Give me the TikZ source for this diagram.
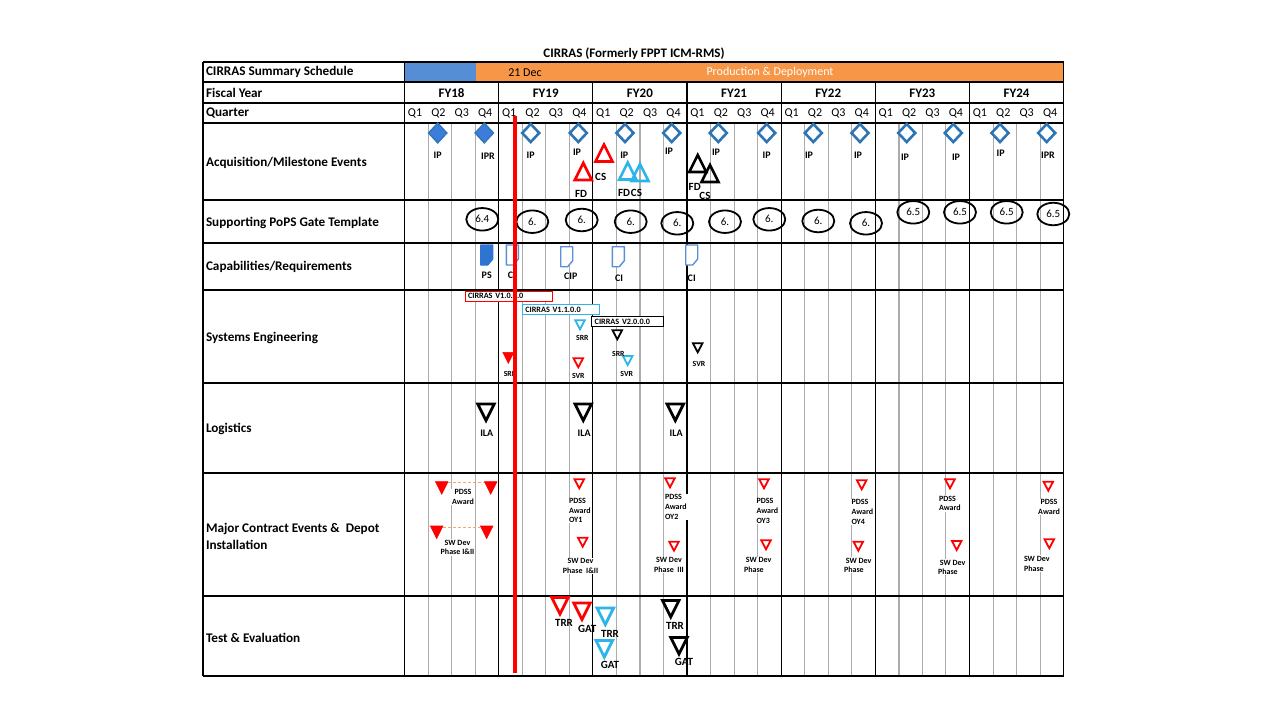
\documentclass[tikz,border=0pt]{standalone}
\usepackage{fontspec}
\setmainfont{Carlito}
\usetikzlibrary{shapes.geometric}
\definecolor{cred}{HTML}{FF0000}
\definecolor{ccyan}{HTML}{2DB4EA}
\definecolor{cblue}{HTML}{2E75B6}
\definecolor{cbluefill}{HTML}{3B7DD8}
\definecolor{cdoc}{HTML}{5A8ED8}
\definecolor{cdocfill}{HTML}{2F74D0}
\definecolor{corange}{HTML}{F79646}
\definecolor{csum}{HTML}{558ED5}
\definecolor{cgray}{HTML}{ABABAB}
\definecolor{cdash}{HTML}{F4A870}
\tikzset{
  every node/.style={inner sep=0pt, outer sep=0pt},
  grid/.style={draw=cgray, line width=0.9pt},
  gridthick/.style={draw=cgray, line width=1.8pt},
  rule/.style={draw=black, line width=1.1pt},
  rowlab/.style={anchor=west, align=left, font=\fontsize{13.2}{17}\selectfont\bfseries},
  fylab/.style={font=\fontsize{13}{14}\selectfont\bfseries},
  qlab/.style={font=\fontsize{12}{14}\selectfont},
  mlab/.style={font=\fontsize{10}{12}\selectfont\bfseries},
  blab/.style={font=\fontsize{11}{13}\selectfont\bfseries},
  slab/.style={font=\fontsize{7.8}{9}\selectfont\bfseries},
  clab/.style={font=\fontsize{8}{9.8}\selectfont\bfseries, fill=white, inner xsep=1pt, inner ysep=0.5pt},
  diafill/.style={diamond, draw=cblue, fill=cbluefill, line width=1.2pt, minimum width=18.5pt, minimum height=20pt},
  diaout/.style={diamond, draw=cblue, fill=white, line width=2.6pt, minimum width=17pt, minimum height=18pt},
  tri/.style={isosceles triangle, isosceles triangle stretches, anchor=lower side},
  bigup/.style={tri, shape border rotate=90, draw=#1, line width=2.6pt, minimum width=17pt, minimum height=17pt},
  bigdown/.style={tri, shape border rotate=-90, draw=#1, fill=white, line width=2.8pt, minimum width=16.5pt, minimum height=16.5pt},
  smalldown/.style={tri, shape border rotate=-90, draw=#1, fill=white, line width=1.8pt, minimum width=9.5pt, minimum height=9pt},
  filldown/.style={tri, shape border rotate=-90, draw=cred, fill=cred, line width=0.6pt, minimum width=#1, minimum height=#1},
  gate/.style={ellipse, draw=black, line width=1.8pt, minimum width=32pt, minimum height=22.5pt, font=\fontsize{11}{12}\selectfont},
  verbox/.style={draw=#1, fill=white, line width=0.9pt, minimum height=10pt, inner xsep=3pt, anchor=west, align=left, font=\fontsize{8.2}{8.5}\selectfont\bfseries},
  docout/.style={draw=cdoc, fill=white, line width=1.4pt, line join=round},
  docfill/.style={draw=cdocfill, fill=cdocfill, line width=1.4pt, line join=round},
  docicon/.pic={\path[pic actions] (-6,-10) -- (6,-10) -- (6,4) -- (1,10) -- (-6,10) -- cycle;},
}
\begin{document}
\begin{tikzpicture}[x=1pt,y=-1pt]
\useasboundingbox (0,0) rectangle (1280,720);
\fill[white] (0,0) rectangle (1280,720);
% summary bar
\fill[csum] (404.5,62) rectangle (476,82);
\fill[corange] (476,62) rectangle (1063.5,82);
% quarter grid
\foreach \f in {404.5,498.65,592.8,686.95,781.1,875.25,969.4}{
  \foreach \k in {1,2,3}{
    \draw[grid] (\f+23.54*\k,123) -- (\f+23.54*\k,676);
  }
}
\draw[gridthick] (639.9,123) -- (639.9,676);
\draw[gridthick] (898.8,123) -- (898.8,676);
% table rules
\foreach \y in {62,82,103,123,200,243,290,383,473,596,676}
  \draw[rule] (203,\y) -- (1063.5,\y);
\draw[rule] (203,62) -- (203,676);
\draw[rule] (404.5,62) -- (404.5,676);
\draw[rule] (1063.5,62) -- (1063.5,676);
\foreach \x in {498.65,592.8,686.95,781.1,875.25,969.4}
  \draw[rule] (\x,82) -- (\x,676);
% title and header texts
\node[fylab] (title) at (634,53.5) {CIRRAS (Formerly FPPT ICM-RMS)};
\node[qlab] (sdec) at (525,72.5) {21 Dec};
\node[qlab, text=white] (sprod) at (770,72.5) {Production \& Deployment};
\foreach \n/\x in {18/451.6,19/545.7,20/639.9,21/734,22/828.2,23/922.3,24/1016.5}
  \node[fylab] (fy\n) at (\x,93) {FY\n};
\foreach \f [count=\i] in {404.5,498.65,592.8,686.95,781.1,875.25,969.4}{
  \foreach \k in {1,2,3,4}{
    \node[qlab] (q\i-\k) at (\f+10.5+23.4*\k-23.4,113) {Q\k};
  }
}
% row labels
\node[rowlab] (r0) at (206,72) {CIRRAS Summary Schedule};
\node[rowlab] (r1) at (206,93) {Fiscal Year};
\node[rowlab] (r2) at (206,113) {Quarter};
\node[rowlab] (r3) at (206,162.5) {Acquisition/Milestone Events};
\node[rowlab] (r4) at (206,222.5) {Supporting PoPS Gate Template};
\node[rowlab] (r5) at (206,267) {Capabilities/Requirements};
\node[rowlab] (r6) at (206,337.5) {Systems Engineering};
\node[rowlab] (r7) at (206,429) {Logistics};
\node[rowlab] (r8) at (206,536.5) {Major Contract Events \&\ \ Depot\\Installation};
\node[rowlab] (r9) at (206,638) {Test \& Evaluation};
% acquisition milestones
\node[diafill] (d1) at (437.7,133) {};
\node[diafill] (d2) at (484.3,133) {};
\foreach \x [count=\i] in {530.7,578.3,625,671.7,718.3,766.7,813.3,860,906.7,953.3,1000,1046.7}
  \node[diaout] (do\i) at (\x,133) {};
\foreach \x/\y/\t [count=\i] in {437.7/155/IP,488/156/IPR,530.7/155/IP,577/152.7/IP,624.3/155/IP,669/151/IP,716/152.7/IP,766.7/155/IP,809/155/IP,858/155/IP,905/157/IP,956/157/IP,1000.7/153/IP,1048/155/IPR}
  \node[mlab] (ipl\i) at (\x,\y) {\t};
\node[bigup=cred] (fdr) at (583.3,180) {};
\node[bigup=cred] (csr) at (604,161.5) {};
\node[bigup=ccyan] (fdc) at (627.7,179.5) {};
\node[bigup=ccyan] (csc) at (640,181) {};
\node[bigup=black] (fdb) at (697.7,172) {};
\node[bigup=black] (csb) at (710,182) {};
\node[blab] (fdrl) at (581,194) {FD};
\node[blab] (csrl) at (600.7,176.7) {CS};
\node[blab] (fdcl) at (624,192.7) {FD};
\node[blab] (cscl) at (636.5,192.7) {CS};
\node[blab] (fdbl) at (694.7,186.7) {FD};
\node[blab] (csbl) at (705,196) {CS};
% PoPS gates
\foreach \x/\y/\t [count=\i] in {482.3/219.3/6.4,532.3/221.7/6.,581.7/220/6.,630.7/221.7/6.,677.3/223.3/6.,725/221.7/6.,769.3/219.3/6.,818.3/221/6.,866/223.3/6.,913.3/212.3/6.5,960/212.3/6.5,1006.7/212.3/6.5,1053.3/214/6.5}
  \node[gate] (g\i) at (\x,\y) {\t};
% capabilities
\pic[docfill] (cap1) at (486.7,255) {docicon};
\pic[docout] (cap2) at (512.3,255) {docicon};
\pic[docout] (cap3) at (566.7,256.7) {docicon};
\pic[docout] (cap4) at (618.3,256.7) {docicon};
\pic[docout] (cap5) at (691.7,255) {docicon};
\node[mlab] (cl1) at (486.7,275.7) {PS};
\node[mlab] (cl2) at (510.5,275.7) {C};
\node[mlab] (cl3) at (570.7,276.7) {CIP};
\node[mlab] (cl4) at (619,278.3) {CI};
\node[mlab] (cl5) at (691.7,278.3) {CI};
% systems engineering
\node[verbox=cred, text width=81pt] (v1) at (465,296) {CIRRAS V1.0.0.0};
\node[verbox=ccyan, text width=70.7pt] (v2) at (522.3,309.7) {CIRRAS V1.1.0.0};
\node[verbox=black, text width=65.6pt] (v3) at (591.7,321.7) {CIRRAS V2.0.0.0};
\node[smalldown=ccyan] (se1) at (580,320.3) {};
\node[smalldown=black] (se2) at (617.3,330.3) {};
\node[smalldown=ccyan] (se3) at (627.7,356) {};
\node[smalldown=black] (se4) at (697.7,343.3) {};
\node[smalldown=cred] (se5) at (578.3,358.3) {};
\node[filldown=11pt] (se6) at (508.3,352.3) {};
\node[slab] (sel1) at (582.3,338.3) {SRR};
\node[slab] (sel2) at (618.3,354.3) {SRR};
\node[slab] (sel3) at (626.7,373.7) {SVR};
\node[slab] (sel4) at (699,364) {SVR};
\node[slab] (sel5) at (578.3,375.7) {SVR};
\node[slab] (sel6) at (510,374.3) {SRR};
% logistics
\foreach \x [count=\i] in {486,583.3,675.3}{
  \node[bigdown=black] (ila\i) at (\x,404) {};
  \node[mlab] (ilal\i) at (\x+0.8,433.3) {ILA};
}
% major contract events
\node[clab, align=center] (mc1) at (463,497.2) {PDSS\\Award};
\node[clab, align=center] (mc2) at (457.5,547.5) {SW Dev\\Phase I\&II};
\node[clab, align=left, anchor=west] (mc3) at (568,510.5) {PDSS\\Award\\OY1};
\node[clab, align=center] (mc4) at (580.5,565.7) {SW Dev\\Phase\ \ I\&II};
\node[clab, align=left, anchor=west] (mc5) at (664,507) {PDSS\\Award\\OY2};
\node[clab, align=center] (mc6) at (669,565) {SW Dev\\Phase\ \ III};
\node[clab, align=left, anchor=west] (mc7) at (755.5,510.8) {PDSS\\Award\\OY3};
\node[clab, align=left, anchor=west] (mc8) at (743,565) {\ SW Dev\\Phase};
\node[clab, align=left, anchor=west] (mc9) at (850.5,511.9) {PDSS\\Award\\OY4};
\node[clab, align=left, anchor=west] (mc10) at (843,565.3) {\ SW Dev\\Phase};
\node[clab, align=left, anchor=west] (mc11) at (938,503.5) {PDSS\\Award};
\node[clab, align=left, anchor=west] (mc12) at (937,567.3) {\ SW Dev\\Phase};
\node[clab, align=center] (mc13) at (1049,506.7) {PDSS\\Award};
\node[clab, align=left, anchor=west] (mc14) at (1023,563.5) {SW Dev\\Phase};
\node[filldown=12.5pt] (pa1) at (441.7,481.7) {};
\node[filldown=12.5pt] (pa2) at (490.7,481.7) {};
\node[filldown=12.5pt] (sw1) at (436.7,526) {};
\node[filldown=12.5pt] (sw2) at (486.7,526) {};
\draw[cdash, line width=1pt, dash pattern=on 3pt off 2pt] ([xshift=6.5pt,yshift=-1pt]pa1.lower side) -- ([xshift=-6.5pt,yshift=-1pt]pa2.lower side);
\draw[cdash, line width=1pt, dash pattern=on 3pt off 2pt] ([xshift=6.5pt,yshift=-1pt]sw1.lower side) -- ([xshift=-6.5pt,yshift=-1pt]sw2.lower side);
\foreach \x/\y [count=\i] in {579.3/479.3,582.7/537.7,670/478.3,674/541.7,764/479.3,766/540.3,861.7/480.3,858.3/541.7,950/479.3,956.7/541,1048.3/481.7,1049.3/539.3}
  \node[smalldown=cred] (mt\i) at (\x,\y) {};
% test and evaluation
\node[bigdown=cred] (te1) at (560,597.5) {};
\node[bigdown=cred] (te2) at (582,603) {};
\node[bigdown=ccyan] (te3) at (605.3,608) {};
\node[bigdown=ccyan] (te4) at (604.3,640.5) {};
\node[bigdown=black] (te5) at (670.7,600.5) {};
\node[bigdown=black] (te6) at (679,637.5) {};
\node[blab] (tel1) at (564,622.7) {TRR};
\node[blab] (tel2) at (587.3,629.3) {GAT};
\node[blab] (tel3) at (610,634.3) {TRR};
\node[blab] (tel4) at (610,665) {GAT};
\node[blab] (tel5) at (675,626) {TRR};
\node[blab] (tel6) at (684,662.3) {GAT};
% status line
\coordinate (rtop) at (515,116);
\coordinate (rbot) at (515,673);
\draw[cred, line width=4pt] (rtop) -- (rbot);
\end{tikzpicture}
\end{document}
